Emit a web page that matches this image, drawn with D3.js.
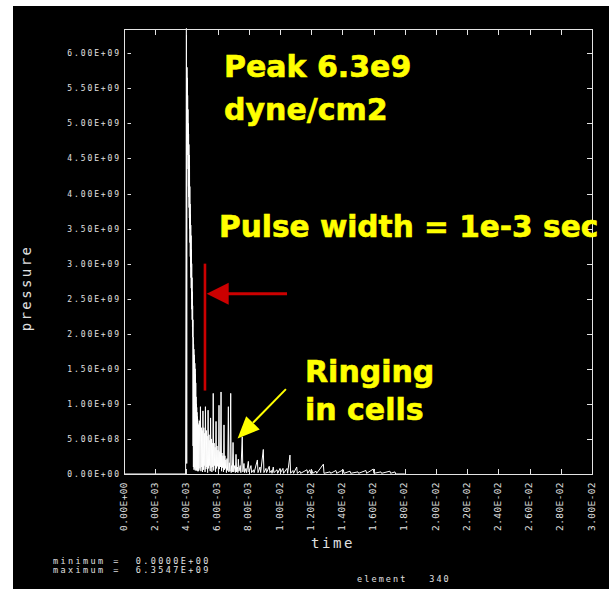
<!DOCTYPE html>
<html>
<head>
<meta charset="utf-8">
<script src="https://cdn.jsdelivr.net/npm/d3@7"></script>
<style>
  html, body { margin: 0; padding: 0; background: #ffffff; }
  svg { display: block; }
</style>
</head>
<body>
<svg id="chart" width="609" height="590"></svg>
<script>
// Axis ticks (time in ms, pressure in units of 1e9 dyne/cm2)
const timeTicksMs = [0, 2, 4, 6, 8, 10, 12, 14, 16, 18, 20, 22, 24, 26, 28, 30];
const timeTickLabels = ["0.00E+00", "2.00E-03", "4.00E-03", "6.00E-03", "8.00E-03", "1.00E-02",
  "1.20E-02", "1.40E-02", "1.60E-02", "1.80E-02", "2.00E-02", "2.20E-02", "2.40E-02",
  "2.60E-02", "2.80E-02", "3.00E-02"];
const pressureTicks = [0, 0.5, 1, 1.5, 2, 2.5, 3, 3.5, 4, 4.5, 5, 5.5, 6];
const pressureTickLabels = ["0.00E+00", "5.00E+08", "1.00E+09", "1.50E+09", "2.00E+09", "2.50E+09",
  "3.00E+09", "3.50E+09", "4.00E+09", "4.50E+09", "5.00E+09", "5.50E+09", "6.00E+09"];

// Pressure history at element 340
const timeMs = [
  0, 3.95, 4.00, 4.02,
  4.04, 4.05, 4.06, 4.07, 4.08, 4.09, 4.10, 4.11, 4.12, 4.13, 4.14, 4.15, 4.16, 4.17, 4.18, 4.19,
  4.20, 4.21, 4.22, 4.23, 4.24, 4.25, 4.26, 4.27, 4.28, 4.29, 4.30, 4.31, 4.32, 4.33, 4.34, 4.35,
  4.36, 4.37, 4.38, 4.39, 4.40, 4.41, 4.42, 4.43,
  4.44, 4.45, 4.46, 4.47, 4.48, 4.49, 4.50, 4.51, 4.52, 4.53, 4.54, 4.55, 4.56, 4.57, 4.58, 4.59,
  4.60, 4.61, 4.62, 4.63, 4.64, 4.65, 4.66, 4.67, 4.68, 4.69, 4.70, 4.71, 4.72, 4.73, 4.74,
  4.755, 4.77, 4.80, 4.83, 4.865, 4.90, 4.93, 4.96, 4.985, 5.01, 5.035, 5.06, 5.09, 5.12, 5.145,
  5.17, 5.195, 5.22, 5.25, 5.28, 5.305, 5.33, 5.36, 5.39, 5.42, 5.45, 5.475, 5.50, 5.525, 5.55,
  5.58, 5.61, 5.635, 5.66, 5.69, 5.72, 5.75, 5.78, 5.81, 5.84, 5.87, 5.90, 5.93, 5.96, 5.99, 6.02,
  6.055, 6.09, 6.115, 6.14, 6.18, 6.22, 6.25, 6.28, 6.31, 6.34, 6.375, 6.41, 6.44, 6.47, 6.50,
  6.53, 6.565, 6.60, 6.645, 6.69, 6.72, 6.75, 6.795, 6.84, 6.87, 6.90, 6.945, 6.99,
  7.03, 7.10, 7.14, 7.18, 7.22, 7.27, 7.30, 7.33, 7.37, 7.45, 7.49, 7.58, 7.62, 7.69, 7.73, 7.82,
  7.86, 7.97, 8.01, 8.14, 8.18, 8.30, 8.34, 8.55, 8.59, 8.72, 8.76, 8.93, 8.97, 9.10, 9.14, 9.31,
  9.35, 9.45, 9.49, 9.57, 9.61, 9.81, 9.85, 10.00, 10.04, 10.19, 10.23, 10.45, 10.49, 10.64, 10.68,
  10.83, 10.87, 11.07, 11.11, 11.28, 11.32, 11.73, 11.77, 11.92, 11.96, 12.05, 12.09, 12.31, 12.35,
  12.78, 12.82, 13.21, 13.25, 13.59, 13.63, 14.06, 14.10, 14.49, 14.53, 15.00, 15.04, 15.51, 15.55,
  15.98, 16.02, 16.47, 16.51, 17.05, 17.09, 17.37, 17.41, 18.00
];
const pressureE9 = [
  0, 0, 6.3547, 0.15,
  5.80, 4.95, 5.65, 4.75, 5.40, 4.55, 5.20, 4.35, 5.00, 4.10, 4.85, 3.95, 4.70, 3.80, 4.55, 3.65,
  4.40, 3.50, 4.10, 3.30, 3.85, 3.10, 3.70, 2.95, 3.55, 2.80, 3.40, 2.65, 3.20, 2.50, 3.00, 2.35,
  2.80, 2.20, 2.60, 2.10, 2.40, 1.95, 2.20, 0.40,
  1.95, 0.10, 1.85, 0.30, 1.78, 0.06, 1.70, 0.20, 1.65, 0.08, 1.58, 0.25, 1.50, 0.05, 1.42, 0.18,
  1.30, 0.10, 1.10, 0.22, 1.00, 0.05, 0.95, 0.15, 0.88, 0.06, 0.82, 0.12, 0.78, 0.04, 0.72,
  0.04, 0.70, 0.05, 0.76, 0.08, 0.96, 0.04, 0.66, 0.10, 0.62, 0.03, 0.90, 0.06, 0.66, 0.12,
  0.58, 0.03, 0.96, 0.07, 0.62, 0.10, 0.54, 0.02, 0.91, 0.08, 0.56, 0.12, 0.48, 0.04, 0.80,
  0.09, 0.50, 0.03, 0.44, 0.10, 1.15, 0.05, 0.44, 0.12, 0.38, 0.03, 0.75, 0.08, 0.40, 0.11, 0.34,
  0.02, 0.98, 0.07, 0.32, 0.10, 1.17, 0.04, 0.30, 0.09, 0.26, 0.03, 0.70, 0.06, 0.26, 0.08,
  0.20, 0.02, 0.22, 0.05, 0.96, 0.03, 0.16, 0.04, 1.15, 0.02, 0.12, 0.03, 0.45,
  0.03, 0.12, 0.02, 0.28, 0.03, 0.10, 0.02, 0.21, 0.04, 0.12, 0.02, 0.53, 0.03, 0.15, 0.02, 0.08,
  0.02, 0.18, 0.03, 0.12, 0.02, 0.06, 0.02, 0.20, 0.02, 0.10, 0.02, 0.35, 0.02, 0.08, 0.02, 0.11,
  0.02, 0.05, 0.01, 0.10, 0.02, 0.06, 0.01, 0.08, 0.02, 0.08, 0.01, 0.08, 0.01, 0.27, 0.01,
  0.05, 0.01, 0.10, 0.01, 0.04, 0.01, 0.06, 0.01, 0.06, 0.01, 0.05, 0.01, 0.04, 0.01,
  0.14, 0.01, 0.03, 0.01, 0.05, 0.01, 0.06, 0.01, 0.04, 0.01, 0.03, 0.01, 0.05, 0.01,
  0.07, 0.01, 0.03, 0.01, 0.04, 0.01, 0.03, 0.00, 0.00
];

const summaryLines = ["minimum =  0.0000E+00", "maximum =  6.3547E+09"];
const elementLabel = "element   340";

const svg = d3.select("#chart");
const W = 609, H = 590;
const frame = { left: 124, right: 592, top: 29, bottom: 474 };

const x = d3.scaleLinear().domain([0, 30]).range([frame.left, frame.right]);
const y = d3.scaleLinear().domain([0, 6]).range([frame.bottom, 53.3]);

const axisColor = "#e4e4e4";
const textColor = "#e0e0e0";
const mono = "'DejaVu Sans Mono', 'Liberation Mono', monospace";

// page and dark panel
svg.append("rect").attr("x", 0).attr("y", 0).attr("width", W).attr("height", H).attr("fill", "#ffffff");
svg.append("rect").attr("x", 13).attr("y", 6).attr("width", W - 13).attr("height", 583).attr("fill", "#000000");

// data line
const line = d3.line().x(d => x(d[0])).y(d => y(d[1]));
const pts = timeMs.map((t, i) => [t, pressureE9[i]]);
svg.append("path")
  .attr("d", line(pts))
  .attr("fill", "none")
  .attr("stroke", "#ffffff")
  .attr("stroke-width", 1);

// frame
svg.append("rect")
  .attr("x", frame.left + 0.5).attr("y", frame.top + 0.5)
  .attr("width", frame.right - frame.left).attr("height", frame.bottom - frame.top)
  .attr("fill", "none").attr("stroke", axisColor).attr("stroke-width", 1);

// tick marks on all four sides
const ticks = svg.append("g").attr("stroke", axisColor).attr("stroke-width", 1);
pressureTicks.forEach(v => {
  const yy = Math.round(y(v)) + 0.5;
  ticks.append("line").attr("x1", frame.left + 3.5).attr("x2", frame.left + 7).attr("y1", yy).attr("y2", yy);
  ticks.append("line").attr("x1", frame.right - 5).attr("x2", frame.right).attr("y1", yy).attr("y2", yy);
});
timeTicksMs.forEach(t => {
  const xx = Math.round(x(t)) + 0.5;
  ticks.append("line").attr("x1", xx).attr("x2", xx).attr("y1", frame.top).attr("y2", frame.top + 6);
  ticks.append("line").attr("x1", xx).attr("x2", xx).attr("y1", frame.bottom - 5).attr("y2", frame.bottom);
});

// y tick labels
svg.append("g").selectAll("text").data(pressureTicks).join("text")
  .attr("x", 121)
  .attr("y", d => y(d) + 3)
  .attr("text-anchor", "end")
  .attr("font-family", mono).attr("font-size", 8).attr("letter-spacing", 1.9)
  .attr("fill", textColor)
  .text((d, i) => pressureTickLabels[i]);

// x tick labels, rotated
svg.append("g").selectAll("text").data(timeTicksMs).join("text")
  .attr("transform", d => `translate(${x(d) + 2.5},482) rotate(-90)`)
  .attr("text-anchor", "end")
  .attr("font-family", mono).attr("font-size", 9.5).attr("letter-spacing", 0.4)
  .attr("fill", textColor)
  .text((d, i) => timeTickLabels[i]);

// axis titles
svg.append("text")
  .attr("x", 311).attr("y", 548)
  .attr("font-family", mono).attr("font-size", 14).attr("letter-spacing", 2.6)
  .attr("fill", textColor)
  .text("time");
svg.append("text")
  .attr("transform", "translate(30.5,288) rotate(-90)")
  .attr("text-anchor", "middle")
  .attr("font-family", mono).attr("font-size", 14).attr("letter-spacing", 2.4)
  .attr("fill", textColor)
  .text("pressure");

// summary footer
summaryLines.forEach((s, i) => {
  svg.append("text")
    .attr("x", 53).attr("y", 564 + i * 9)
    .attr("font-family", mono).attr("font-size", 8.5).attr("letter-spacing", 2.4)
    .attr("fill", textColor)
    .style("white-space", "pre")
    .text(s);
});
svg.append("text")
  .attr("x", 357).attr("y", 582)
  .attr("font-family", mono).attr("font-size", 8.5).attr("letter-spacing", 2.1)
  .attr("fill", textColor)
  .style("white-space", "pre")
  .text(elementLabel);

// yellow annotations
const bold = "'DejaVu Sans', sans-serif";
const yellow = "#ffff00";
[["Peak 6.3e9", 224, 77, 30], ["dyne/cm2", 224, 120, 30], ["Pulse width = 1e-3 sec", 219, 237, 29.6],
 ["Ringing", 305, 382, 30], ["in cells", 305, 420, 30]].forEach(([s, tx, ty, fs]) => {
  svg.append("text")
    .attr("x", tx).attr("y", ty)
    .attr("font-family", bold).attr("font-weight", "bold").attr("font-size", fs)
    .attr("fill", yellow)
    .attr("stroke", yellow).attr("stroke-width", 0.6)
    .text(s);
});

// pulse-width marker: red bar with arrow pointing to it
const red = "#cc0000";
svg.append("line")
  .attr("x1", x(5.19)).attr("x2", x(5.19))
  .attr("y1", y(3.0)).attr("y2", y(1.19))
  .attr("stroke", red).attr("stroke-width", 2.6);
const ax0 = x(10.45), ay = y(2.57), tipX = x(5.3);
svg.append("line")
  .attr("x1", ax0).attr("x2", tipX + 20).attr("y1", ay).attr("y2", ay)
  .attr("stroke", red).attr("stroke-width", 3);
svg.append("path")
  .attr("d", `M${tipX},${ay} L${tipX + 22},${ay - 11} L${tipX + 22},${ay + 11} Z`)
  .attr("fill", red);

// ringing arrow
const p0 = [x(10.38), y(1.21)], p1 = [x(7.28), y(0.506)];
const dx = p1[0] - p0[0], dy = p1[1] - p0[1], len = Math.hypot(dx, dy);
const ux = dx / len, uy = dy / len, headL = 22, headW = 9.5;
const bx = p1[0] - ux * headL, by = p1[1] - uy * headL;
svg.append("line")
  .attr("x1", p0[0]).attr("y1", p0[1]).attr("x2", bx).attr("y2", by)
  .attr("stroke", yellow).attr("stroke-width", 2);
svg.append("path")
  .attr("d", `M${p1[0]},${p1[1]} L${bx - uy * headW},${by + ux * headW} L${bx + uy * headW},${by - ux * headW} Z`)
  .attr("fill", yellow);
</script>
</body>
</html>
